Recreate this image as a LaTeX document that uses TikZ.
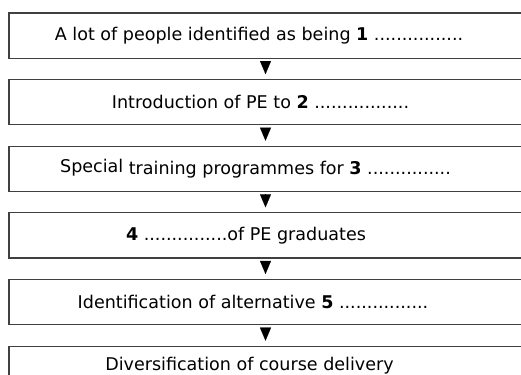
\documentclass[tikz,border=0pt]{standalone}
\usepackage{fontspec}
\setmainfont{DejaVu Sans}
\usetikzlibrary{arrows.meta, positioning}

\tikzset{
  stage/.style={draw=black!75, line width=1.1pt, minimum width=512pt,
    minimum height=45pt, inner sep=0pt, font=\fontsize{17.5}{20}\selectfont},
  flow/.style={-{Triangle[width=11pt,length=13pt]}, line width=0.1pt,
    shorten <=3pt, shorten >=5pt}
}

\begin{document}
\begin{tikzpicture}[x=1pt, y=1pt, node distance=20.4pt]
\useasboundingbox (0,0) rectangle (520,-373.3);

% Stages of the flow chart
\node[stage] (s1) at (265,-35.5) {A lot of people identified as being \textbf{1} ................\hspace*{13pt}};
\node[stage, below=of s1] (s2) {Introduction of PE to \textbf{2} .................\hspace*{10pt}};
\node[stage, below=of s2] (s3) {\raisebox{2pt}{Special} training programmes for \textbf{3} ...............\hspace*{20pt}};
\node[stage, below=of s3] (s4) {\textbf{4} ...............of PE graduates\hspace*{39pt}};
\node[stage, below=of s4] (s5) {Identification of alternative \textbf{5} ................\hspace*{25pt}};
\node[stage, below=20.5pt of s5, minimum height=39pt] (s6) {Diversification of course delivery\hspace*{32pt}};

% Arrows between stages
\foreach \a/\b in {s1/s2, s2/s3, s3/s4, s4/s5, s5/s6} {
  \draw[flow] (\a.south) -- (\b.north);
}
\end{tikzpicture}
\end{document}
